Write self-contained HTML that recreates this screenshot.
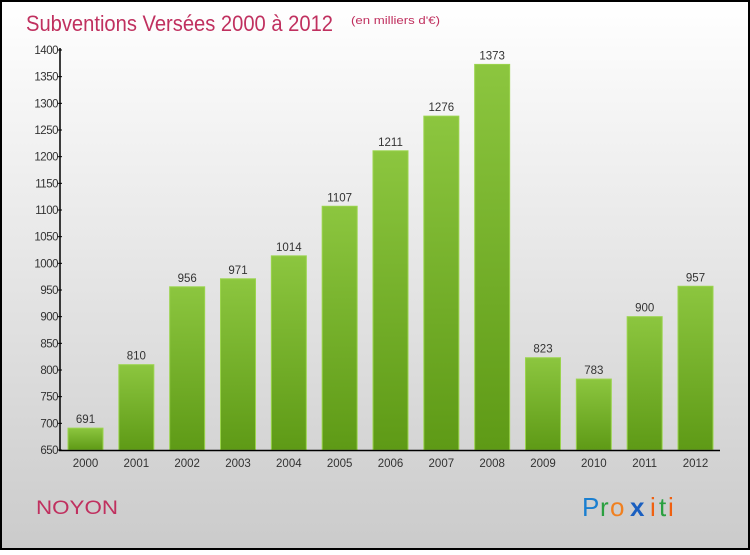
<!DOCTYPE html>
<html><head><meta charset="utf-8"><style>
body{margin:0;width:750px;height:550px;overflow:hidden;font-family:"Liberation Sans",sans-serif}
</style></head><body>
<svg id="c" width="750" height="550" font-family="'Liberation Sans',sans-serif">
<defs>
<linearGradient id="bg" x1="0" y1="0" x2="0" y2="1"><stop offset="0" stop-color="#ffffff"/><stop offset="1" stop-color="#cbcbcb"/></linearGradient>
<linearGradient id="bar" x1="0" y1="0" x2="0" y2="1"><stop offset="0" stop-color="#8cc63f"/><stop offset="1" stop-color="#5e9a16"/></linearGradient>
</defs>
<rect x="1" y="1" width="748" height="548" fill="url(#bg)" stroke="#000" stroke-width="2"/>
<text x="26" y="31" font-size="22" fill="#c0305f" textLength="307" lengthAdjust="spacingAndGlyphs">Subventions Versées 2000 à 2012</text>
<text x="351" y="24" font-size="11" fill="#c0305f" textLength="89" lengthAdjust="spacingAndGlyphs">(en milliers d'€)</text>
<text x="36" y="514" font-size="19" fill="#c0305f" textLength="82" lengthAdjust="spacingAndGlyphs">NOYON</text>
<g font-size="26" font-family="'Liberation Sans',sans-serif">
<text x="582" y="516" fill="#1a7fd0">P</text><text x="600" y="516" fill="#2aa040">r</text><text x="610" y="516" fill="#f08020">o</text><text x="630" y="516" fill="#1a5fc0" font-weight="bold">x</text><text x="650" y="516" fill="#f06010">i</text><text x="659" y="516" fill="#2aa040">t</text><text x="668" y="516" fill="#f06010">i</text>
</g>
<g id="plot"></g>
</svg>
<script>
const categories=["2000","2001","2002","2003","2004","2005","2006","2007","2008","2009","2010","2011","2012"];
const values=[691,810,956,971,1014,1107,1211,1276,1373,823,783,900,957];
const yTicks=[650,700,750,800,850,900,950,1000,1050,1100,1150,1200,1250,1300,1350,1400];
const NS="http://www.w3.org/2000/svg";
const g=document.getElementById('plot');
const y0=450,y1=50,vmin=650,vmax=1400;
function yS(v){return y0-(v-vmin)/(vmax-vmin)*(y0-y1);}
function xS(i){return 85.5+i*(695.5-85.5)/(categories.length-1);}
function mk(t,a,txt){const e=document.createElementNS(NS,t);for(const k in a)e.setAttribute(k,a[k]);if(txt!=null)e.textContent=txt;g.appendChild(e);return e;}
values.forEach((v,i)=>{
 const r=mk('rect',{x:xS(i)-17.5,y:yS(v),width:35,height:y0-yS(v),fill:'url(#bar)',stroke:'#9bd44e','stroke-width':1});
 
 
 const t=mk('text',{x:xS(i),y:yS(v)-5,'font-size':11.5,fill:'#333','text-anchor':'middle'},v);
 
 
 const c=mk('text',{x:xS(i),y:467,'font-size':11.5,fill:'#333','text-anchor':'middle'},categories[i]);
 
 
});
yTicks.forEach(v=>{
 const l=mk('line',{x1:57,x2:62,y1:yS(v),y2:yS(v),stroke:'#000'});
 
 
 const t=mk('text',{x:58,y:yS(v)+4,'font-size':11.5,fill:'#333','text-anchor':'end','letter-spacing':'-0.5'},v);
 
 
});
const ya=mk('line',{x1:60,x2:60,y1:48,y2:451,stroke:'#000','stroke-width':1.5});


const xa=mk('line',{x1:59,x2:720,y1:450.5,y2:450.5,stroke:'#000','stroke-width':1.5});


</script>
</body></html>
